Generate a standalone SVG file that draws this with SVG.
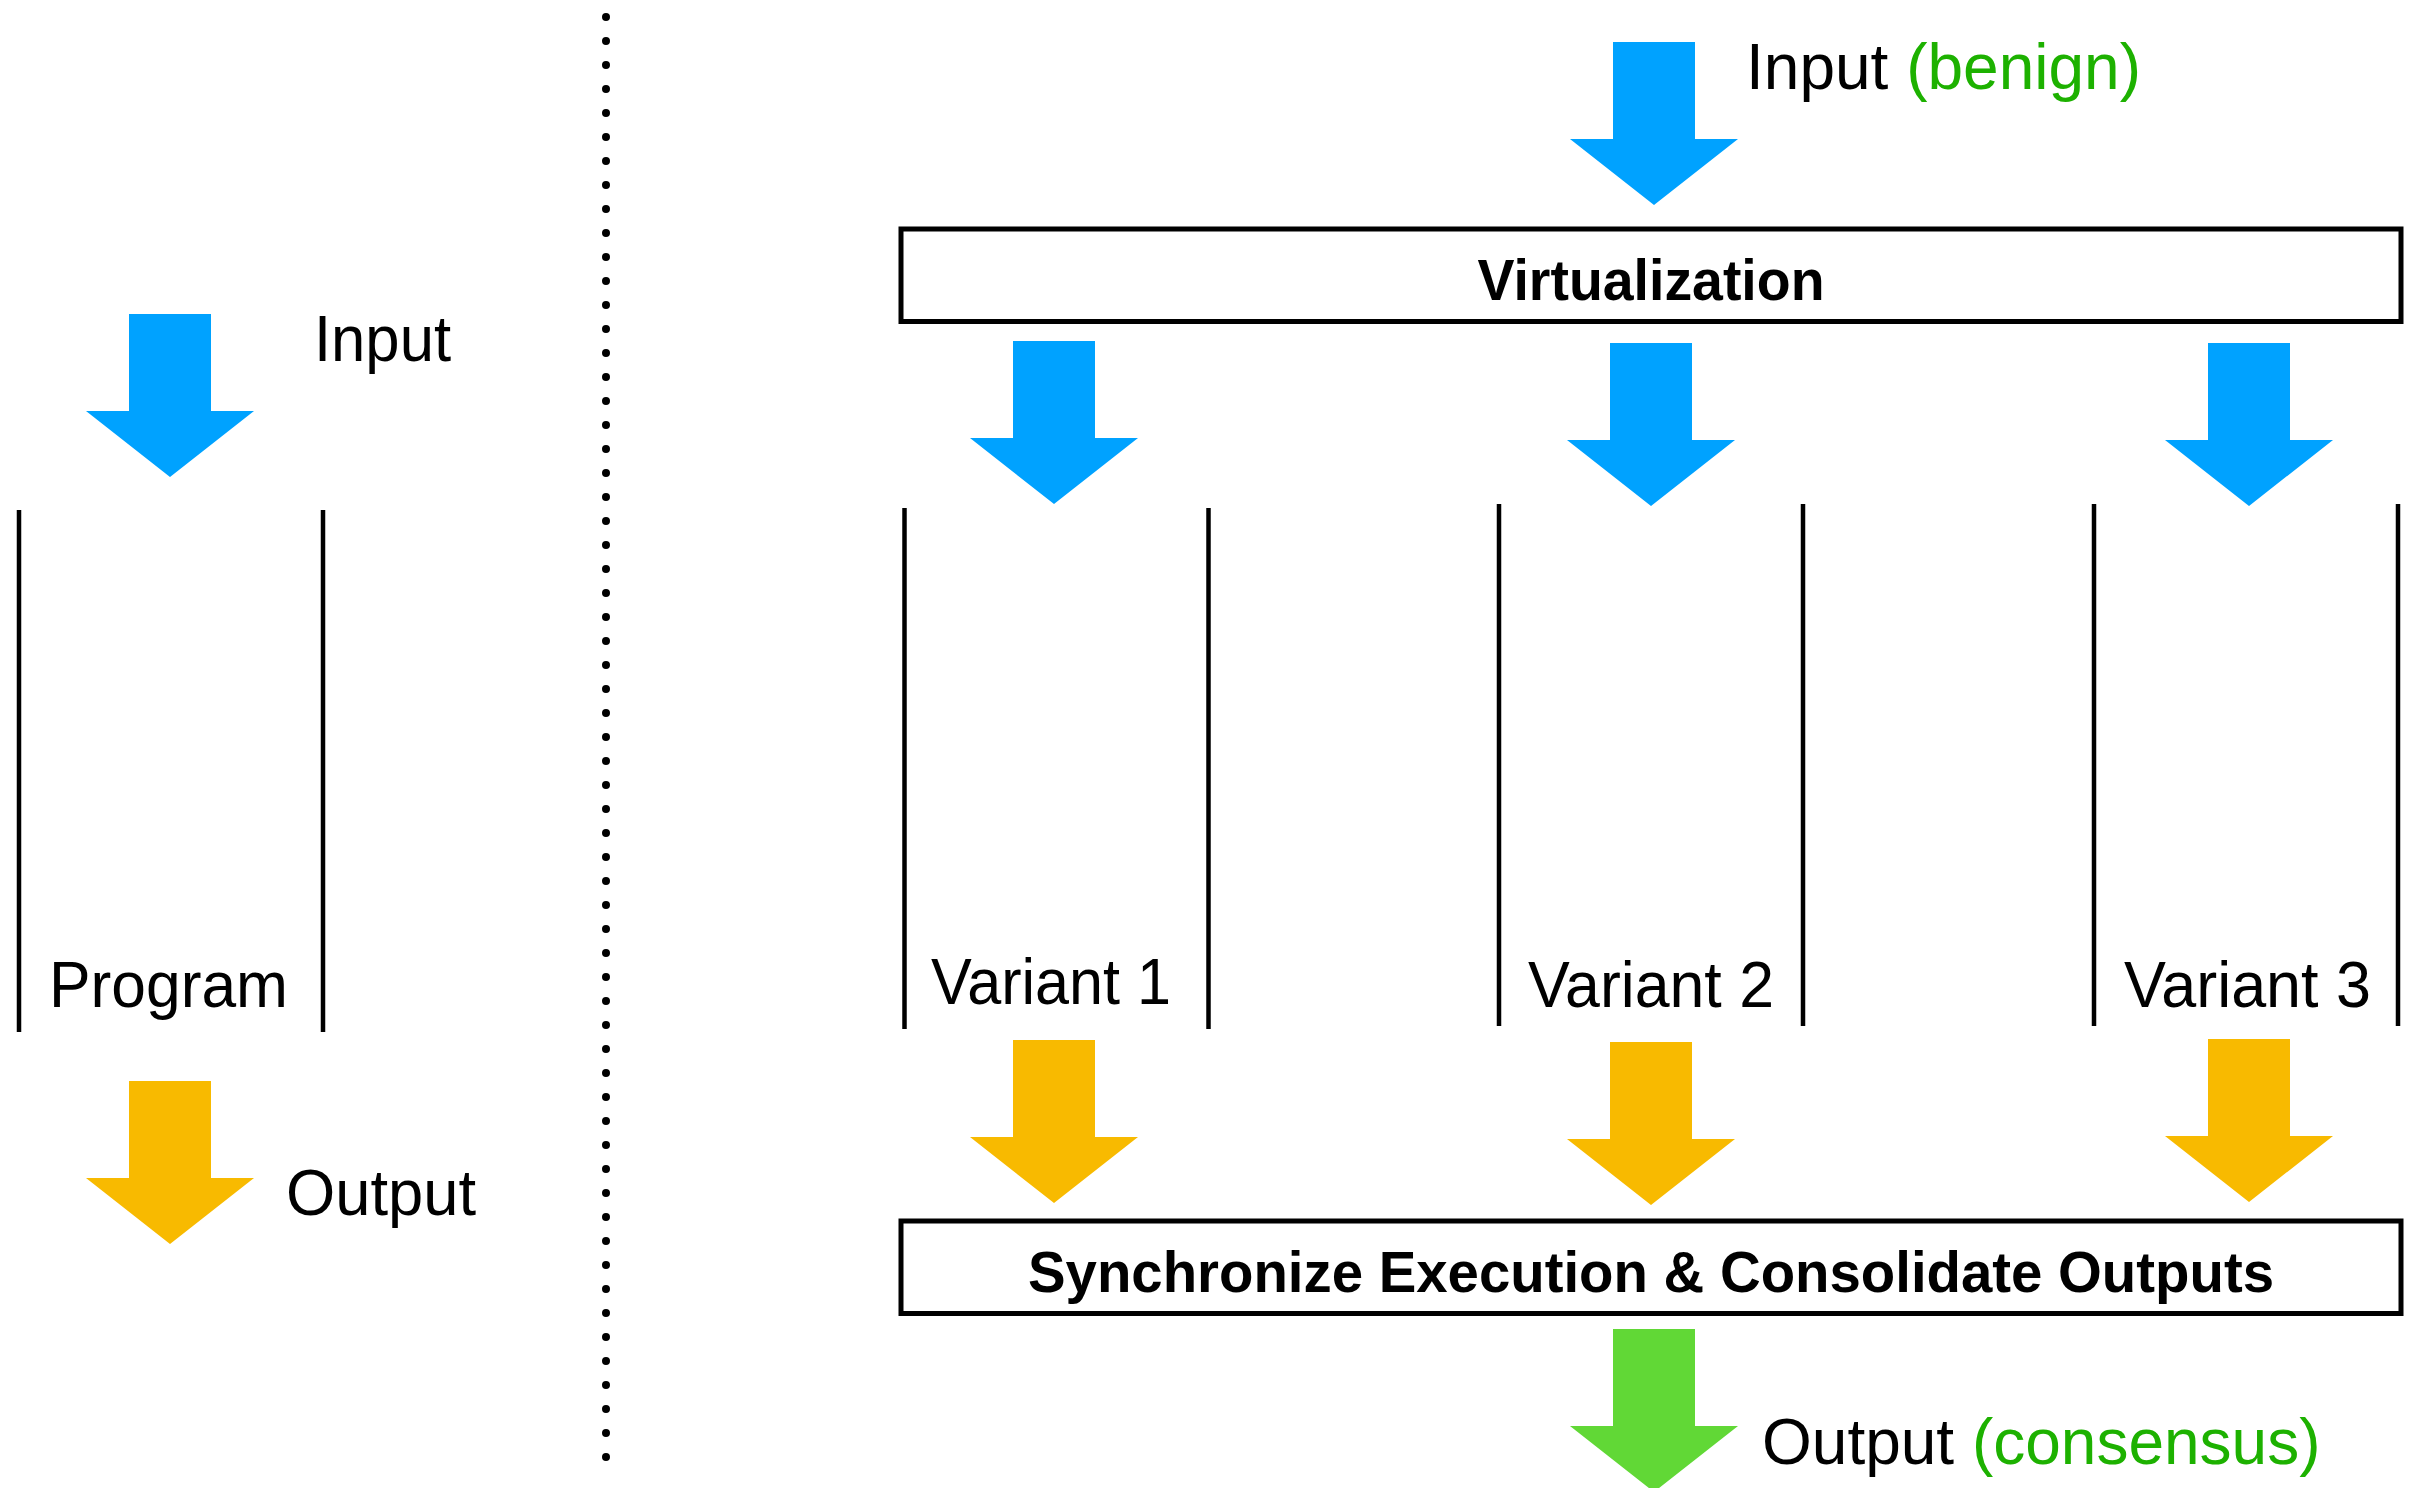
<svg xmlns="http://www.w3.org/2000/svg" xmlns:xlink="http://www.w3.org/1999/xlink" width="2418" height="1488" viewBox="0 0 2418 1488">
<style>
  .lbl { font-family: "Liberation Sans", Arial, Helvetica, sans-serif; font-size: 64px; fill: #000; }
  .box-lbl { font-family: "Liberation Sans", Arial, Helvetica, sans-serif; font-size: 58px; font-weight: bold; fill: #000; text-anchor: middle; }
  .green { fill: #1DB100; }
  .wall { stroke: #000; stroke-width: 4.5; fill: none; }
  .box { fill: #fff; stroke: #000; stroke-width: 5; }
  .blue { fill: #00A2FF; }
  .yellow { fill: #F8BA00; }
  .lime { fill: #61D836; }
</style>
<defs>
  <path id="arrow" d="M0,0 H82 V97 H125 L41,163 L-43,97 H0 Z"/>
</defs>
<rect width="2418" height="1488" fill="#fff"/>

<g id="separator">
  <line x1="606" y1="17" x2="606" y2="1458" stroke="#000" stroke-width="8" stroke-linecap="round" stroke-dasharray="0 24"/>
</g>

<g id="program">
  <line class="wall" x1="19" y1="510" x2="19" y2="1032"/>
  <line class="wall" x1="323" y1="510" x2="323" y2="1032"/>
  <text class="lbl" x="49" y="1007" textLength="239" lengthAdjust="spacingAndGlyphs">Program</text>
</g>
<g id="input-left">
  <text class="lbl" x="314" y="361" textLength="137" lengthAdjust="spacingAndGlyphs">Input</text>
</g>
<g id="output-left">
  <text class="lbl" x="286" y="1215" textLength="190" lengthAdjust="spacingAndGlyphs">Output</text>
</g>

<g id="input-benign">
  <text class="lbl" x="1746" y="89">Input <tspan class="green">(benign)</tspan></text>
</g>

<g id="virtualization">
  <rect class="box" x="901" y="229" width="1500" height="92.5"/>
  <text class="box-lbl" x="1651" y="300" textLength="347" lengthAdjust="spacingAndGlyphs">Virtualization</text>
</g>

<g id="variant1">
  <line class="wall" x1="904.5" y1="508" x2="904.5" y2="1029"/>
  <line class="wall" x1="1208.5" y1="508" x2="1208.5" y2="1029"/>
  <text class="lbl" x="931" y="1004" textLength="240" lengthAdjust="spacingAndGlyphs">Variant 1</text>
</g>
<g id="variant2">
  <line class="wall" x1="1499" y1="504" x2="1499" y2="1026"/>
  <line class="wall" x1="1803" y1="504" x2="1803" y2="1026"/>
  <text class="lbl" x="1528" y="1007" textLength="246" lengthAdjust="spacingAndGlyphs">Variant 2</text>
</g>
<g id="variant3">
  <line class="wall" x1="2094" y1="504" x2="2094" y2="1026"/>
  <line class="wall" x1="2398" y1="504" x2="2398" y2="1026"/>
  <text class="lbl" x="2124" y="1007" textLength="247" lengthAdjust="spacingAndGlyphs">Variant 3</text>
</g>

<g id="synchronize">
  <rect class="box" x="901" y="1221" width="1500" height="92.5"/>
  <text class="box-lbl" x="1651" y="1292" textLength="1246" lengthAdjust="spacingAndGlyphs">Synchronize Execution &amp; Consolidate Outputs</text>
</g>

<g id="output-consensus">
  <text class="lbl" x="1762" y="1464">Output <tspan class="green">(consensus)</tspan></text>
</g>

<g id="connectors">
  <use xlink:href="#arrow" href="#arrow" class="blue" x="129" y="314"/>
  <use xlink:href="#arrow" href="#arrow" class="yellow" x="129" y="1081"/>
  <use xlink:href="#arrow" href="#arrow" class="blue" x="1613" y="42"/>
  <use xlink:href="#arrow" href="#arrow" class="blue" x="1013" y="341"/>
  <use xlink:href="#arrow" href="#arrow" class="blue" x="1610" y="343"/>
  <use xlink:href="#arrow" href="#arrow" class="blue" x="2208" y="343"/>
  <use xlink:href="#arrow" href="#arrow" class="yellow" x="1013" y="1040"/>
  <use xlink:href="#arrow" href="#arrow" class="yellow" x="1610" y="1042"/>
  <use xlink:href="#arrow" href="#arrow" class="yellow" x="2208" y="1039"/>
  <use xlink:href="#arrow" href="#arrow" class="lime" x="1613" y="1329"/>
</g>
</svg>
